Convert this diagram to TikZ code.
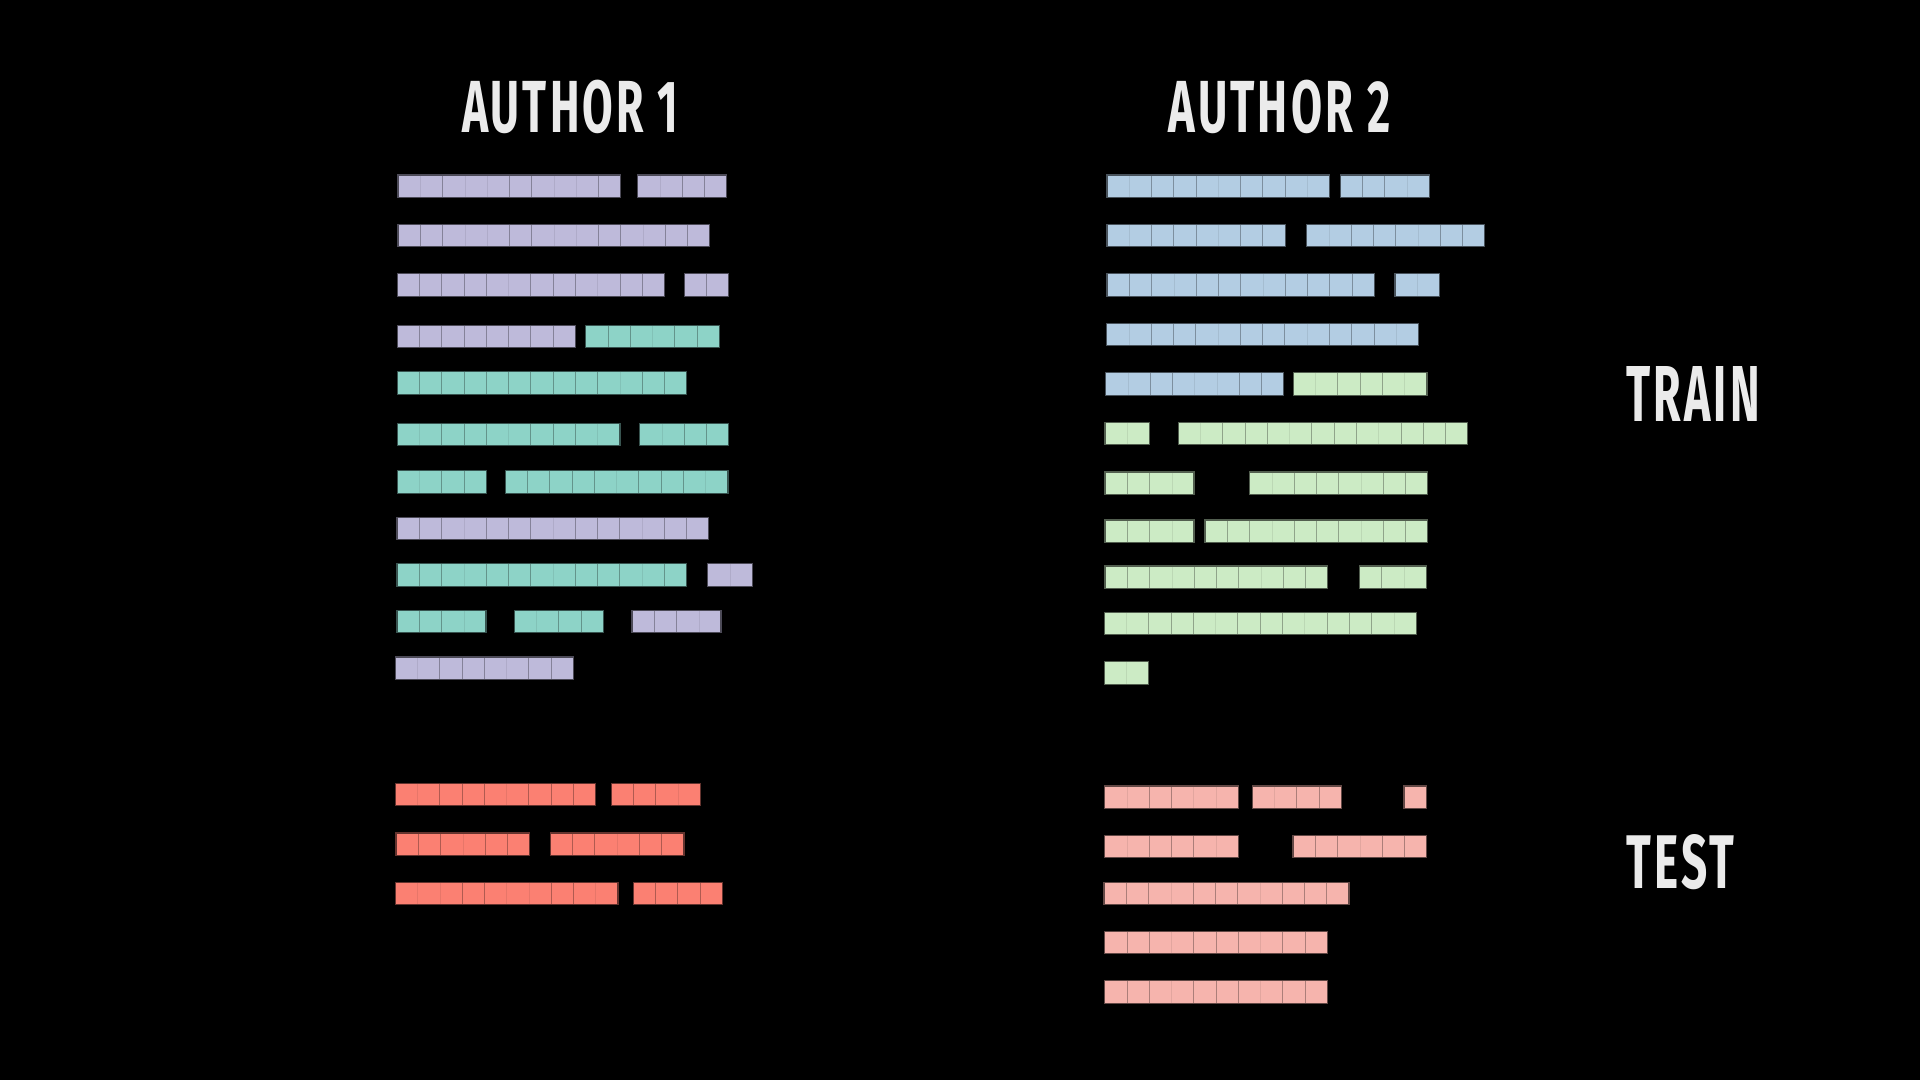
\documentclass[tikz,border=0pt]{standalone}
\usepackage{graphicx}
\usepackage{fontspec}
\newfontfamily\titlefont[LetterSpace=7]{Fira Sans}
\definecolor{purp}{HTML}{BEBADA}
\definecolor{teal}{HTML}{8DD3C7}
\definecolor{redc}{HTML}{FB8072}
\definecolor{blu}{HTML}{B3CDE3}
\definecolor{grn}{HTML}{CCEBC5}
\definecolor{pnk}{HTML}{F6B4AD}
\definecolor{txt}{HTML}{EBEBEB}
\def\cellw{22.27}
\def\cellh{22.5}
\tikzset{
  barfaint/.style={draw=#1!92!black,line width=0.3pt},
  bargroup/.style={draw=#1!70!black,line width=0.45pt},
  barouter/.style={draw=#1!40!black,line width=0.6pt},
  titletext/.style={text=txt,inner sep=0pt,anchor=south west}
}
\newcommand\cellrow[4]{%
  \xdef\curx{#1}%
  \foreach \g in {#4}{\pgfmathsetmacro\nx{\curx+\g*\cellw}\xdef\curx{\nx}}%
  \fill[#3] (#1,#2) rectangle (\curx,{#2+\cellh});
  \xdef\curx{#1}%
  \foreach \g in {#4}{%
    \ifnum\g>1
      \foreach \k in {2,...,\g}{\pgfmathsetmacro\lx{\curx+(\k-1)*\cellw}\draw[barfaint=#3] (\lx,#2) -- (\lx,{#2+\cellh});}%
    \fi
    \pgfmathsetmacro\nx{\curx+\g*\cellw}%
    \draw[bargroup=#3] (\nx,#2) -- (\nx,{#2+\cellh});
    \xdef\curx{\nx}%
  }%
  \draw[barouter=#3] (#1,#2) rectangle (\curx,{#2+\cellh});
}
\begin{document}
\begin{tikzpicture}[x=0.5pt,y=-0.5pt]
\fill[black] (0,0) rectangle (1920,1080);
\useasboundingbox (0,0) rectangle (1920,1080);
% titles
\node[titletext] (a1) at (461.7,134) {\resizebox{108pt}{26.2pt}{\titlefont\bfseries AUTHOR 1}};
\node[titletext] (a2) at (1168.3,134) {\resizebox{110.8pt}{26.2pt}{\titlefont\bfseries AUTHOR 2}};
\node[titletext] (train) at (1626,421.7) {\resizebox{66.6pt}{27.5pt}{\titlefont\bfseries TRAIN}};
\node[titletext] (test) at (1626,890) {\resizebox{54pt}{27pt}{\titlefont\bfseries TEST}};
% Author 1 train
\cellrow{398}{175}{purp}{2,3,1,3,1}
\cellrow{637.7}{175}{purp}{2,1,1}
\cellrow{398}{224.3}{purp}{1,1,3,1,3,1,2,1,1}
\cellrow{397.3}{273.7}{purp}{1,1,1,1,2,1,1,2,1,1}
\cellrow{684.3}{273.7}{purp}{1,1}
\cellrow{397.3}{325.3}{purp}{1,1,1,1,1,1,1,1}
\cellrow{585.7}{325.3}{teal}{1,1,2,1,1}
\cellrow{397.3}{371.7}{teal}{1,1,1,1,1,1,1,1,1,2,1,1}
\cellrow{397.3}{423.3}{teal}{2,1,1,2,1,1,2}
\cellrow{639.7}{423.3}{teal}{2,1,1}
\cellrow{397.3}{470.7}{teal}{2,1,1}
\cellrow{505.3}{470.7}{teal}{1,1,1,1,2,1,1,2}
\cellrow{397}{517.3}{purp}{1,1,2,1,1,2,1,1,2,1,1}
\cellrow{397}{563.7}{teal}{1,1,2,1,1,2,1,1,2,1}
\cellrow{707.7}{563.7}{purp}{2}
\cellrow{397}{610.3}{teal}{1,1,2}
\cellrow{514.3}{610.3}{teal}{2,1,1}
\cellrow{632}{610.3}{purp}{1,1,2}
\cellrow{395.3}{657}{purp}{2,1,1,2,1,1}
% Author 1 test
\cellrow{395.3}{783.3}{redc}{2,1,1,2,1,1,1}
\cellrow{611.3}{783.3}{redc}{1,1,2}
\cellrow{396}{833}{redc}{1,1,2,1,1}
\cellrow{550.3}{833}{redc}{1,1,2,1,1}
\cellrow{395.3}{882.3}{redc}{3,1,3,1,2}
\cellrow{633.3}{882.3}{redc}{1,1,1,1}
% Author 2 train
\cellrow{1107}{175}{blu}{2,1,1,2,1,1,2}
\cellrow{1340.3}{175}{blu}{1,1,2}
\cellrow{1107}{224.3}{blu}{2,1,1,2,1,1}
\cellrow{1306.7}{224.3}{blu}{2,1,1,2,1,1}
\cellrow{1107}{273.7}{blu}{1,1,2,1,1,2,1,1,1,1}
\cellrow{1395}{273.7}{blu}{2}
\cellrow{1106.7}{323.3}{blu}{2,1,1,2,1,1,2,1,1,2}
\cellrow{1105.7}{372.7}{blu}{2,1,3,1,1}
\cellrow{1293.3}{372.7}{grn}{2,1,1,2}
\cellrow{1105}{422.3}{grn}{2}
\cellrow{1178.3}{422.3}{grn}{2,1,1,2,1,1,2,1,1,1}
\cellrow{1105}{472}{grn}{1,1,2}
\cellrow{1249.7}{472}{grn}{2,1,1,2,1,1}
\cellrow{1105}{520}{grn}{1,1,2}
\cellrow{1205}{520}{grn}{1,1,2,1,1,2,1,1}
\cellrow{1105}{566}{grn}{1,1,2,1,1,2,1,1}
\cellrow{1359.3}{566}{grn}{1,2}
\cellrow{1104.3}{612.3}{grn}{2,1,1,2,1,1,2,1,1,2}
\cellrow{1104.3}{661.7}{grn}{2}
% Author 2 test
\cellrow{1104.7}{786}{pnk}{2,1,3}
\cellrow{1252.3}{786}{pnk}{2,1,1}
\cellrow{1404}{786}{pnk}{1}
\cellrow{1104.7}{835.3}{pnk}{2,1,1,2}
\cellrow{1293}{835.3}{pnk}{1,1,2,1,1}
\cellrow{1104}{882.3}{pnk}{1,1,2,1,1,2,1,1,1}
\cellrow{1104.7}{931.3}{pnk}{1,1,2,1,1,2,1,1}
\cellrow{1104.7}{980.7}{pnk}{1,1,2,1,1,2,1,1}
\end{tikzpicture}
\end{document}
